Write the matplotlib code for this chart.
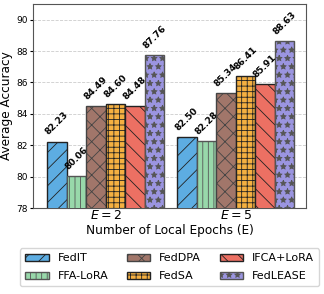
import matplotlib.pyplot as plt
import numpy as np

# data
groups = ['$E=2$', '$E=5$']
methods = ['FedIT', 'FFA-LoRA', 'FedDPA', 'FedSA', 'IFCA+LoRA', 'FedLEASE']
acc_e2 = [82.23, 80.06, 84.49, 84.60, 84.48, 87.76]
acc_e5 = [82.50, 82.28, 85.34, 86.41, 85.91, 88.63]

colors = ['#5DADE2', '#98D8AA', '#A1766A', '#F5B041', '#EC7063', '#9B95E0']
hatches = ['//', '|||', 'xx', '+++', '\\\\', '**']
edges = ['#222222', '#555555', '#444444', '#222222', '#222222', '#555555']

plt.rcParams['hatch.linewidth'] = 0.6

fig = plt.figure(figsize=(3.24, 2.94), dpi=100)
ax = fig.add_axes([0.102, 0.2925, 0.842, 0.694])

x = np.arange(len(groups))
width = 0.15
values = np.array([acc_e2, acc_e5]).T

for i, m in enumerate(methods):
    pos = x + (i - 2.5) * width
    bars = ax.bar(pos, values[i], width, color=colors[i], hatch=hatches[i],
                  edgecolor=edges[i], linewidth=1.0, label=m, zorder=3)
    for b, v in zip(bars, values[i]):
        ax.text(b.get_x() + b.get_width() / 2, v + 0.3, f'{v:.2f}',
                rotation=45, ha='center', va='bottom', fontsize=6.5,
                fontweight='bold')

ax.set_ylim(78, 91)
ax.set_xlim(-0.56, 1.54)
ax.set_yticks([78, 80, 82, 84, 86, 88, 90])
ax.tick_params(axis='y', labelsize=6.5, length=2.5, pad=1.5)
ax.set_xticks(x)
ax.set_xticklabels(groups, fontsize=9)
ax.tick_params(axis='x', length=0, pad=1)
ax.set_ylabel('Average Accuracy', fontsize=8.7, labelpad=2)
ax.set_xlabel('Number of Local Epochs (E)', fontsize=8.7, labelpad=1)
ax.yaxis.grid(True, linestyle='--', color='#cccccc', linewidth=0.6, zorder=0)
ax.set_axisbelow(True)
for s in ax.spines.values():
    s.set_color('#555555')

fig.legend(loc='lower center', bbox_to_anchor=(0.524, 0.008), ncol=3,
           fontsize=8, handlelength=2.1, handleheight=0.6, columnspacing=1.7,
           handletextpad=0.8, labelspacing=0.7, frameon=True, edgecolor='#cccccc',
           borderpad=0.45)

fig.savefig('out.png', dpi=100)
